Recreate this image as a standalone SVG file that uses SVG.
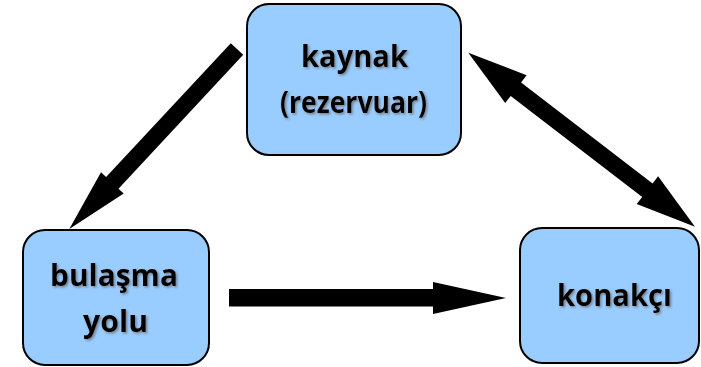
<svg xmlns="http://www.w3.org/2000/svg" width="701" height="367" viewBox="0 0 701 367">
  <defs>
    <filter id="ts" x="-10%" y="-20%" width="130%" height="150%">
      <feDropShadow dx="1.5" dy="1.5" stdDeviation="0.9" flood-color="#6a6a6a" flood-opacity="0.75"/>
    </filter>
  </defs>
  <style>
    .box { fill: #99CCFF; stroke: #000; stroke-width: 2; }
    .lbl { font-family: "Open Sans", "Liberation Sans", sans-serif; font-weight: bold; font-size: 30px; fill: #000; text-anchor: middle; filter: url(#ts); }
    .arr { fill: #000; stroke: none; }
  </style>
  <rect width="701" height="367" fill="#fff"/>
  <g id="connectors">
    <polygon class="arr" points="230.8,43.2 243.2,54.8 118.5,188.7 123.7,193.5 69.3,229 101.0,172.3 106.1,177.1"/>
    <polygon class="arr" points="468.3,52.7 526.6,75.3 521.1,82.5 652.6,183.5 658.1,176.3 695,226.7 636.7,204.1 642.2,196.9 510.7,95.9 505.2,103.1"/>
    <polygon class="arr" points="229,289 433,289 433,282 506,298 433,314 433,306.5 229,306.5"/>
  </g>
  <g id="kaynak">
    <rect class="box" x="247" y="4" width="214" height="151" rx="22" ry="22"/>
    <text class="lbl" x="354.5" y="67" textLength="107" lengthAdjust="spacingAndGlyphs">kaynak</text>
    <text class="lbl" x="353.5" y="113" textLength="147" lengthAdjust="spacingAndGlyphs">(rezervuar)</text>
  </g>
  <g id="bulasma">
    <rect class="box" x="23" y="230" width="186" height="135" rx="22" ry="22"/>
    <text class="lbl" x="114" y="286" textLength="128" lengthAdjust="spacingAndGlyphs">bulaşma</text>
    <text class="lbl" x="115.5" y="332" textLength="65" lengthAdjust="spacingAndGlyphs">yolu</text>
  </g>
  <g id="konakci">
    <rect class="box" x="520" y="228" width="179" height="135" rx="22" ry="22"/>
    <text class="lbl" x="614.5" y="306" textLength="115" lengthAdjust="spacingAndGlyphs">konakçı</text>
  </g>
</svg>
